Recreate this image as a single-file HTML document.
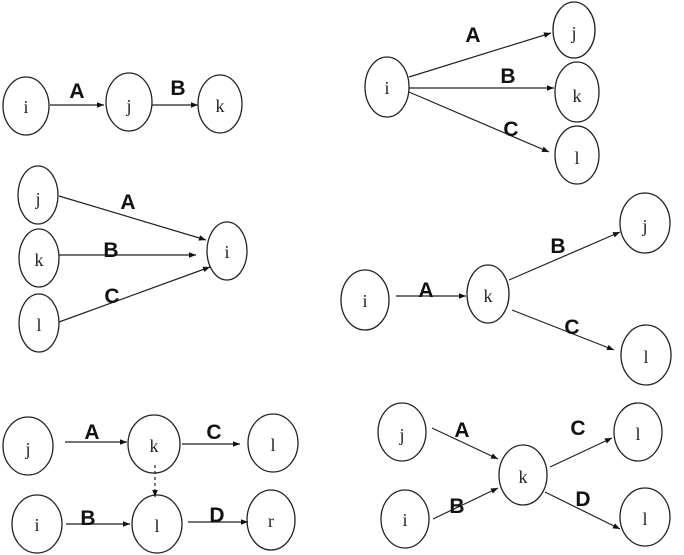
<!DOCTYPE html>
<html><head><meta charset="utf-8"><style>
html,body{margin:0;padding:0;background:#fff;}
svg{display:block;}
.n{fill:#fff;stroke:#222;stroke-width:1.3;}
.t{font-family:"Liberation Serif",serif;font-size:18px;fill:#222;text-anchor:middle;}
.l{font-family:"Liberation Sans",sans-serif;font-weight:bold;font-size:21px;fill:#111;text-anchor:middle;}
.e{stroke:#222;stroke-width:1.2;fill:none;marker-end:url(#a);}
</style></head><body>
<svg width="684" height="555" viewBox="0 0 684 555" xmlns="http://www.w3.org/2000/svg">
<defs><marker id="a" viewBox="0 0 10 10" refX="10" refY="5" markerWidth="8" markerHeight="7" orient="auto" markerUnits="userSpaceOnUse"><path d="M0,1 L10,5 L0,9z" fill="#111"/></marker></defs>

<ellipse class="n" cx="26" cy="106" rx="23" ry="29"/><text class="t" x="26" y="113">i</text>
<ellipse class="n" cx="129" cy="102" rx="23" ry="29"/><text class="t" x="129" y="112">j</text>
<ellipse class="n" cx="220" cy="104" rx="22" ry="29"/><text class="t" x="220" y="112">k</text>
<line class="e" x1="50" y1="105" x2="104" y2="105"/>
<line class="e" x1="152" y1="105" x2="198" y2="105"/>
<text class="l" x="77" y="98">A</text><text class="l" x="178" y="95">B</text>

<ellipse class="n" cx="38" cy="195" rx="20" ry="29"/><text class="t" x="38" y="205">j</text>
<ellipse class="n" cx="39" cy="258" rx="20" ry="29"/><text class="t" x="39" y="266">k</text>
<ellipse class="n" cx="39" cy="323" rx="20" ry="29"/><text class="t" x="39" y="331">l</text>
<ellipse class="n" cx="227" cy="251" rx="20" ry="29"/><text class="t" x="227" y="258">i</text>
<line class="e" x1="59" y1="196" x2="206" y2="240"/>
<line class="e" x1="59" y1="255" x2="196" y2="255"/>
<line class="e" x1="59" y1="322" x2="210" y2="267"/>
<text class="l" x="128" y="209">A</text><text class="l" x="111" y="257">B</text><text class="l" x="112" y="303">C</text>

<ellipse class="n" cx="387" cy="87" rx="22" ry="30"/><text class="t" x="387" y="94">i</text>
<ellipse class="n" cx="574" cy="30" rx="21" ry="28"/><text class="t" x="574" y="39">j</text>
<ellipse class="n" cx="577" cy="92" rx="22" ry="30"/><text class="t" x="577" y="102">k</text>
<ellipse class="n" cx="577" cy="155" rx="22" ry="29"/><text class="t" x="577" y="164">l</text>
<line class="e" x1="409" y1="77" x2="551" y2="33"/>
<line class="e" x1="409" y1="88" x2="554" y2="88"/>
<line class="e" x1="409" y1="92" x2="549" y2="152"/>
<text class="l" x="473" y="42">A</text><text class="l" x="508" y="83">B</text><text class="l" x="511" y="136">C</text>

<ellipse class="n" cx="365" cy="300" rx="24" ry="30"/><text class="t" x="365" y="307">i</text>
<ellipse class="n" cx="488" cy="294" rx="21" ry="29"/><text class="t" x="488" y="302">k</text>
<ellipse class="n" cx="645" cy="223" rx="25" ry="30"/><text class="t" x="645" y="232">j</text>
<ellipse class="n" cx="646" cy="355" rx="25" ry="30"/><text class="t" x="646" y="363">l</text>
<line class="e" x1="396" y1="296" x2="466" y2="296"/>
<line class="e" x1="509" y1="280" x2="620" y2="232"/>
<line class="e" x1="512" y1="310" x2="614" y2="350"/>
<text class="l" x="426" y="297">A</text><text class="l" x="558" y="253">B</text><text class="l" x="572" y="334">C</text>

<ellipse class="n" cx="28" cy="446" rx="25" ry="29"/><text class="t" x="28" y="455">j</text>
<ellipse class="n" cx="154" cy="444" rx="26" ry="29"/><text class="t" x="154" y="452">k</text>
<ellipse class="n" cx="273" cy="443" rx="25" ry="29"/><text class="t" x="273" y="451">l</text>
<ellipse class="n" cx="37" cy="524" rx="25" ry="29"/><text class="t" x="37" y="531">i</text>
<ellipse class="n" cx="157" cy="524" rx="25" ry="29"/><text class="t" x="157" y="532">l</text>
<ellipse class="n" cx="271" cy="520" rx="24" ry="30"/><text class="t" x="271" y="527">r</text>
<line class="e" x1="65" y1="442" x2="127" y2="442"/>
<line class="e" x1="182" y1="444" x2="240" y2="444"/>
<line class="e" x1="155" y1="465" x2="155" y2="497" stroke-dasharray="3,3"/>
<line class="e" x1="66" y1="524" x2="130" y2="524"/>
<line class="e" x1="188" y1="522" x2="248" y2="522"/>
<text class="l" x="92" y="439">A</text><text class="l" x="214" y="439">C</text>
<text class="l" x="88" y="525">B</text><text class="l" x="217" y="522">D</text>

<ellipse class="n" cx="402" cy="432" rx="24" ry="29"/><text class="t" x="402" y="441">j</text>
<ellipse class="n" cx="523" cy="475" rx="24" ry="30"/><text class="t" x="523" y="483">k</text>
<ellipse class="n" cx="638" cy="432" rx="24" ry="29"/><text class="t" x="638" y="440">l</text>
<ellipse class="n" cx="405" cy="519" rx="24" ry="29"/><text class="t" x="405" y="526">i</text>
<ellipse class="n" cx="645" cy="517" rx="25" ry="29"/><text class="t" x="645" y="525">l</text>
<line class="e" x1="432" y1="428" x2="498" y2="459"/>
<line class="e" x1="433" y1="519" x2="498" y2="488"/>
<line class="e" x1="550" y1="467" x2="612" y2="438"/>
<line class="e" x1="545" y1="492" x2="620" y2="529"/>
<text class="l" x="462" y="437">A</text><text class="l" x="578" y="435">C</text>
<text class="l" x="457" y="513">B</text><text class="l" x="583" y="506">D</text>
</svg>
</body></html>
